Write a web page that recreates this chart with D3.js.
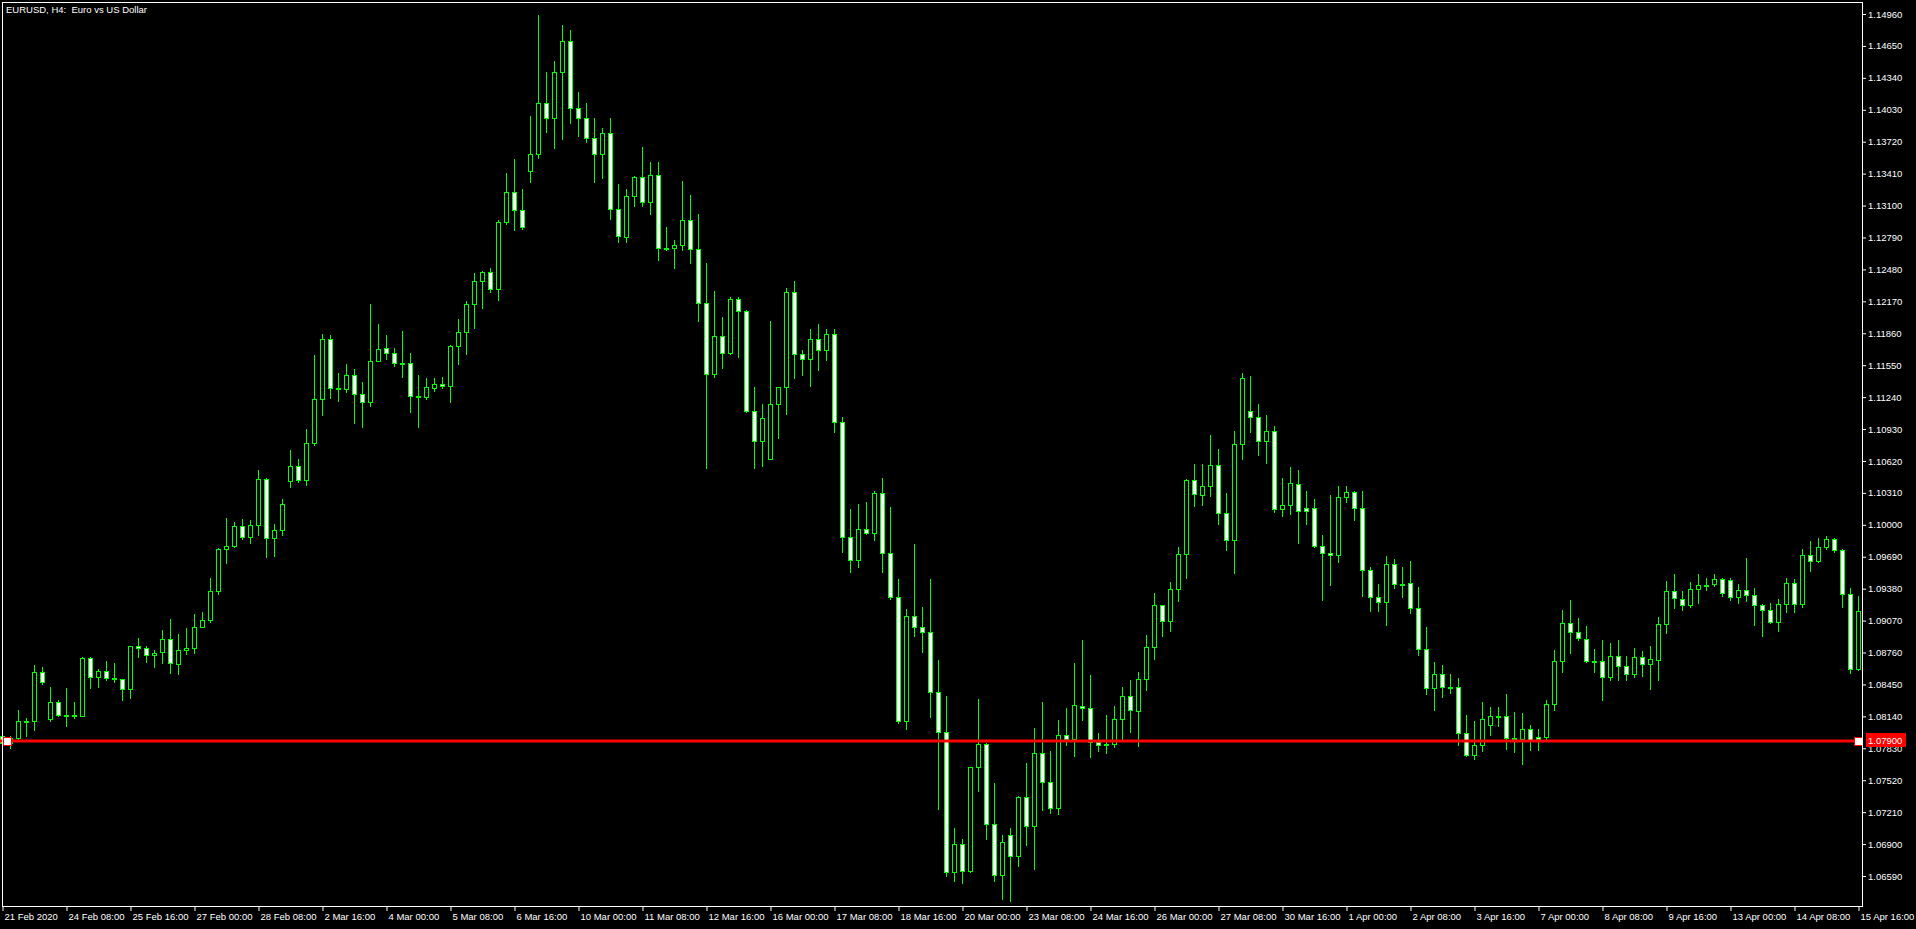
<!DOCTYPE html>
<html>
<head>
<meta charset="utf-8">
<script src="https://cdn.jsdelivr.net/npm/d3@7"></script>
<style>
  html, body { margin: 0; padding: 0; background: #000; overflow: hidden; }
  svg { display: block; }
  text { font-family: "Liberation Sans", Arial, sans-serif; font-size: 9.5px; fill: #fff; }
</style>
</head>
<body>
<div id="chart"></div>
<script>
// EURUSD H4, 21 Feb 2020 00:00 .. 15 Apr 2020 16:00 (233 bars)
const opens = [
  1.0795,1.07881,1.07926,1.08090,1.08091,1.08570,1.08114,1.08279,1.08150,1.08140,
  1.08140,1.08706,1.08518,1.08580,1.08509,1.08502,1.08405,1.08823,1.08803,1.08735,
  1.08764,1.08891,1.08648,1.08784,1.08803,1.09004,1.09075,1.09357,1.09765,1.09794,
  1.09988,1.09881,1.09998,1.10444,1.09871,1.09950,1.10422,1.10574,1.10431,1.10791,
  1.11218,1.11804,1.11325,1.11315,1.11454,1.11270,1.11189,1.11587,1.11716,1.11668,
  1.11568,1.11571,1.11247,1.11237,1.11325,1.11367,1.11344,1.11733,1.11869,1.12140,
  1.12364,1.12454,1.12286,1.12937,1.13231,1.13057,1.13432,1.13600,1.14100,1.13950,
  1.14400,1.14700,1.14050,1.13950,1.13756,1.13600,1.13804,1.13066,1.12794,1.13192,
  1.13377,1.13134,1.13396,1.12687,1.12687,1.12713,1.12959,1.12678,1.12153,1.11464,
  1.11833,1.11668,1.12192,1.12076,1.11105,1.10813,1.10639,1.11173,1.11338,1.12260,
  1.11658,1.11610,1.11800,1.11700,1.11850,1.11000,1.09881,1.09658,1.09959,1.09920,
  1.10308,1.09726,1.09298,1.08091,1.09114,1.09007,1.08958,1.08376,1.07987,1.06628,
  1.06900,1.06638,1.07648,1.07871,1.07094,1.06599,1.06987,1.06783,1.07356,1.07075,
  1.07783,1.07502,1.07249,1.07958,1.07919,1.08240,1.08217,1.07890,1.07858,1.07871,
  1.08114,1.08337,1.08191,1.08502,1.08813,1.09221,1.09062,1.09376,1.09716,1.10435,
  1.10289,1.10376,1.10580,1.10114,1.09852,1.10784,1.11101,1.11046,1.10813,1.10910,
  1.10153,1.10192,1.10396,1.10163,1.10163,1.09790,1.09726,1.09706,1.10270,1.10318,
  1.10159,1.09561,1.09298,1.09250,1.09619,1.09425,1.09431,1.09192,1.08793,1.08415,
  1.08551,1.08424,1.08430,1.07978,1.07761,1.07861,1.08055,1.08143,1.08143,1.07929,
  1.07919,1.08017,1.07939,1.07936,1.08259,1.08677,1.09046,1.08958,1.08891,1.08674,
  1.08677,1.08522,1.08725,1.08628,1.08551,1.08716,1.08648,1.08687,1.09036,1.09357,
  1.09279,1.09221,1.09376,1.09415,1.09421,1.09473,1.09463,1.09295,1.09366,1.09318,
  1.09221,1.09172,1.09052,1.09230,1.09434,1.09230,1.09706,1.09648,1.09781,1.09862,
  1.09755,1.09328,1.08599
];
const highs = [
  1.0800,1.07952,1.08204,1.08127,1.08641,1.08622,1.08428,1.08301,1.08418,1.08282,
  1.08716,1.08719,1.08602,1.08680,1.08661,1.08502,1.08823,1.08903,1.08826,1.08787,
  1.08981,1.09088,1.08942,1.09001,1.09137,1.09156,1.09486,1.09774,1.10069,1.10030,
  1.10059,1.10049,1.10535,1.10457,1.10010,1.10250,1.10729,1.10639,1.10933,1.11652,
  1.11856,1.11846,1.11477,1.11564,1.11516,1.11390,1.12147,1.11953,1.11846,1.11720,
  1.11885,1.11671,1.11457,1.11428,1.11428,1.11438,1.11746,1.12001,1.12176,1.12445,
  1.12467,1.12497,1.12963,1.13419,1.13555,1.13264,1.13973,1.14955,1.14400,1.14500,
  1.14850,1.14800,1.14200,1.14100,1.13950,1.13850,1.13950,1.13312,1.13260,1.13390,
  1.13672,1.13526,1.13526,1.12895,1.12768,1.13341,1.13205,1.13021,1.12545,1.12273,
  1.12021,1.12215,1.12215,1.12089,1.11341,1.11176,1.11982,1.11338,1.12302,1.12370,
  1.11700,1.11900,1.11950,1.11900,1.11900,1.11050,1.10156,1.10205,1.10224,1.10331,
  1.10457,1.10176,1.09476,1.09185,1.09816,1.09205,1.09476,1.08690,1.08340,1.07058,
  1.06952,1.07648,1.08311,1.07884,1.07495,1.06987,1.07058,1.07369,1.07690,1.08029,
  1.08282,1.07806,1.08107,1.08224,1.08657,1.08884,1.08541,1.07978,1.08152,1.08243,
  1.08428,1.08496,1.08570,1.08929,1.09340,1.09225,1.09447,1.09787,1.10448,1.10593,
  1.10593,1.10875,1.10739,1.10308,1.10914,1.11477,1.11448,1.11176,1.11069,1.10962,
  1.10457,1.10564,1.10535,1.10331,1.10253,1.09904,1.10286,1.10380,1.10380,1.10331,
  1.10331,1.09590,1.09425,1.09697,1.09671,1.09590,1.09651,1.09399,1.09007,1.08670,
  1.08638,1.08554,1.08512,1.08156,1.08097,1.08282,1.08233,1.08233,1.08360,1.08185,
  1.08175,1.08059,1.08020,1.08301,1.08787,1.09175,1.09272,1.09098,1.09020,1.08797,
  1.08884,1.08852,1.08884,1.08729,1.08806,1.08777,1.08826,1.09104,1.09457,1.09525,
  1.09360,1.09447,1.09525,1.09486,1.09525,1.09486,1.09486,1.09428,1.09680,1.09389,
  1.09234,1.09243,1.09282,1.09486,1.09473,1.09768,1.09845,1.09875,1.09894,1.09875,
  1.09768,1.09389,1.09311
];
const lows = [
  1.0785,1.07832,1.07913,1.07945,1.08004,1.08450,1.08091,1.08140,1.08042,1.08120,
  1.08140,1.08411,1.08428,1.08496,1.08470,1.08295,1.08314,1.08712,1.08670,1.08615,
  1.08654,1.08557,1.08547,1.08742,1.08758,1.09004,1.09052,1.09324,1.09625,1.09781,
  1.09862,1.09820,1.09904,1.09684,1.09700,1.09900,1.10367,1.10412,1.10383,1.10771,
  1.11069,1.11234,1.11199,1.11286,1.10991,1.10953,1.11150,1.11587,1.11613,1.11545,
  1.11432,1.11092,1.10953,1.11224,1.11296,1.11331,1.11195,1.11564,1.11661,1.11914,
  1.12108,1.12257,1.12186,1.12924,1.12866,1.12872,1.13332,1.13558,1.13811,1.13655,
  1.13749,1.13900,1.13772,1.13714,1.13325,1.13364,1.12966,1.12743,1.12743,1.13092,
  1.13092,1.13014,1.12568,1.12665,1.12490,1.12665,1.12539,1.11975,1.10548,1.11432,
  1.11519,1.11655,1.11626,1.11092,1.10548,1.10567,1.10639,1.10839,1.11072,1.11422,
  1.11450,1.11350,1.11500,1.11600,1.10900,1.09732,1.09544,1.09586,1.09907,1.09849,
  1.09544,1.09276,1.08072,1.08013,1.08916,1.08768,1.08130,1.07243,1.06592,1.06537,
  1.06518,1.06625,1.07411,1.06952,1.06537,1.06362,1.06343,1.06683,1.06887,1.06654,
  1.07227,1.07198,1.07188,1.07858,1.07751,1.08107,1.07750,1.07800,1.07780,1.07838,
  1.07913,1.07984,1.07848,1.08398,1.08693,1.08916,1.08965,1.09256,1.09480,1.10179,
  1.10189,1.10276,1.10004,1.09752,1.09528,1.10635,1.10897,1.10681,1.10596,1.10121,
  1.10088,1.10108,1.09820,1.10004,1.09781,1.09266,1.09418,1.09642,1.10218,1.10049,
  1.09305,1.09159,1.09159,1.09023,1.09383,1.09295,1.09140,1.08738,1.08360,1.08198,
  1.08324,1.08363,1.07864,1.07751,1.07722,1.07806,1.07955,1.08049,1.07826,1.07790,
  1.07673,1.07816,1.07816,1.07913,1.08198,1.08567,1.08751,1.08878,1.08664,1.08573,
  1.08295,1.08496,1.08496,1.08496,1.08518,1.08528,1.08402,1.08489,1.08946,1.09188,
  1.09169,1.09198,1.09237,1.09363,1.09408,1.09311,1.09272,1.09243,1.09263,1.09030,
  1.08916,1.09043,1.08965,1.09156,1.09149,1.09198,1.09548,1.09635,1.09761,1.09732,
  1.09198,1.08557,1.08586
];
const closes = [
  1.0788,1.07929,1.08094,1.08096,1.08570,1.08470,1.08279,1.08149,1.08152,1.08152,
  1.08706,1.08518,1.08580,1.08509,1.08511,1.08405,1.08823,1.08803,1.08735,1.08755,
  1.08891,1.08657,1.08784,1.08803,1.09007,1.09075,1.09357,1.09765,1.09794,1.09988,
  1.09881,1.09998,1.10444,1.09871,1.09950,1.10200,1.10574,1.10431,1.10794,1.11224,
  1.11804,1.11325,1.11330,1.11454,1.11266,1.11189,1.11590,1.11707,1.11665,1.11568,
  1.11572,1.11247,1.11250,1.11338,1.11367,1.11344,1.11736,1.11872,1.12147,1.12367,
  1.12454,1.12286,1.12940,1.13231,1.13053,1.12888,1.13600,1.14100,1.13950,1.14400,
  1.14700,1.14050,1.13950,1.13756,1.13600,1.13804,1.13066,1.12804,1.13192,1.13377,
  1.13134,1.13396,1.12687,1.12690,1.12717,1.12959,1.12678,1.12153,1.11464,1.11833,
  1.11668,1.12192,1.12072,1.11101,1.10813,1.11037,1.11173,1.11338,1.12260,1.11658,
  1.11610,1.11800,1.11700,1.11850,1.11000,1.09881,1.09658,1.09959,1.09920,1.10308,
  1.09726,1.09298,1.08091,1.09114,1.09007,1.08958,1.08376,1.07987,1.06628,1.06900,
  1.06638,1.07648,1.07871,1.07094,1.06599,1.06919,1.06783,1.07356,1.07075,1.07783,
  1.07502,1.07249,1.07958,1.07919,1.08250,1.08217,1.07890,1.07858,1.07870,1.08114,
  1.08337,1.08201,1.08502,1.08813,1.09221,1.09062,1.09376,1.09716,1.10435,1.10299,
  1.10376,1.10580,1.10114,1.09852,1.10784,1.11425,1.11046,1.10813,1.10910,1.10153,
  1.10192,1.10405,1.10134,1.10134,1.09790,1.09726,1.09706,1.10270,1.10318,1.10159,
  1.09561,1.09298,1.09250,1.09619,1.09425,1.09428,1.09192,1.08793,1.08415,1.08551,
  1.08424,1.08430,1.07978,1.07761,1.07861,1.08114,1.08143,1.08140,1.07929,1.07926,
  1.08017,1.07906,1.07919,1.08259,1.08677,1.09046,1.08958,1.08900,1.08674,1.08677,
  1.08522,1.08725,1.08632,1.08551,1.08716,1.08648,1.08696,1.09036,1.09357,1.09285,
  1.09221,1.09376,1.09415,1.09418,1.09473,1.09337,1.09295,1.09366,1.09318,1.09221,
  1.09172,1.09052,1.09230,1.09434,1.09230,1.09706,1.09648,1.09781,1.09862,1.09755,
  1.09328,1.08599,1.09166
];

// time labels every 8 bars
const timeLabels = [
  "21 Feb 2020","24 Feb 08:00","25 Feb 16:00","27 Feb 00:00","28 Feb 08:00",
  "2 Mar 16:00","4 Mar 00:00","5 Mar 08:00","6 Mar 16:00","10 Mar 00:00",
  "11 Mar 08:00","12 Mar 16:00","16 Mar 00:00","17 Mar 08:00","18 Mar 16:00",
  "20 Mar 00:00","23 Mar 08:00","24 Mar 16:00","26 Mar 00:00","27 Mar 08:00",
  "30 Mar 16:00","1 Apr 00:00","2 Apr 08:00","3 Apr 16:00","7 Apr 00:00",
  "8 Apr 08:00","9 Apr 16:00","13 Apr 00:00","14 Apr 08:00","15 Apr 16:00"
];
const priceTicks = [
  1.14960,1.14650,1.14340,1.14030,1.13720,1.13410,1.13100,1.12790,1.12480,1.12170,
  1.11860,1.11550,1.11240,1.10930,1.10620,1.10310,1.10000,1.09690,1.09380,1.09070,
  1.08760,1.08450,1.08140,1.07830,1.07520,1.07210,1.06900,1.06590
];
const hLine = 1.07900;

const W = 1916, H = 929;
const plotL = 2, plotT = 2, plotR = 1862, plotB = 906;
const n = opens.length;

const svg = d3.select("#chart").append("svg")
    .attr("width", W)
    .attr("height", H);

svg.append("rect").attr("width", W).attr("height", H).attr("fill", "#000");

const x = d3.scaleLinear().domain([0, n - 1]).range([2.5, 1858.5]);
const y = d3.scaleLinear().domain([1.0659, 1.1496]).range([876, 14]);

const py = v => Math.round(y(v));

// candles
const bars = svg.append("g");
d3.range(n).forEach(i => {
    const cx = Math.floor(x(i)) + 0.5;
    const o = opens[i], c = closes[i];
    const bull = c >= o;
    bars.append("line")
        .attr("x1", cx).attr("x2", cx)
        .attr("y1", py(highs[i])).attr("y2", py(lows[i]) + 1)
        .attr("stroke", "#00ff00").attr("stroke-width", 1);
    const yt = py(Math.max(o, c)), yb = py(Math.min(o, c));
    bars.append("rect")
        .attr("x", cx - 2).attr("y", yt + 0.5)
        .attr("width", 4).attr("height", Math.max(yb - yt, 1))
        .attr("fill", bull ? "#000" : "#fff")
        .attr("stroke", "#00ff00").attr("stroke-width", 1);
});

// horizontal line
const ly = y(hLine);
svg.append("line")
    .attr("x1", 0).attr("x2", plotR)
    .attr("y1", ly).attr("y2", ly)
    .attr("stroke", "#ff0000").attr("stroke-width", 3);
[3.5, 1854.5].forEach(px => {
    svg.append("rect")
        .attr("x", px).attr("y", Math.round(ly) - 3.5).attr("width", 8).attr("height", 8)
        .attr("fill", "#fff").attr("stroke", "#ff0000").attr("stroke-width", 1);
});

// frame
svg.append("rect")
    .attr("x", plotL + 0.5).attr("y", plotT + 0.5)
    .attr("width", plotR - plotL).attr("height", plotB - plotT)
    .attr("fill", "none").attr("stroke", "#fff").attr("stroke-width", 1);

// price axis
const yAxis = svg.append("g")
    .attr("transform", `translate(${plotR},0)`)
    .call(d3.axisRight(y).tickValues(priceTicks).tickFormat(d3.format(".5f")).tickSize(4).tickPadding(2));
yAxis.select(".domain").remove();
yAxis.selectAll("line").attr("stroke", "#fff");
yAxis.selectAll("text").attr("fill", "#fff").style("font-size", "9.5px")
    .style("font-family", "'Liberation Sans', Arial, sans-serif");

// time axis
const xAxis = svg.append("g")
    .attr("transform", `translate(0,${plotB})`)
    .call(d3.axisBottom(x)
        .tickValues(d3.range(0, n, 8))
        .tickFormat((d, k) => timeLabels[k])
        .tickSize(5).tickPadding(2));
xAxis.select(".domain").remove();
xAxis.selectAll("line").attr("stroke", "#fff");
xAxis.selectAll("text")
    .attr("fill", "#fff")
    .attr("text-anchor", "start")
    .attr("x", 1.5)
    .style("font-size", "9.5px")
    .style("font-family", "'Liberation Sans', Arial, sans-serif");

// price label of the line
svg.append("rect")
    .attr("x", 1866).attr("y", 733).attr("width", 40).attr("height", 14)
    .attr("fill", "#ff0000");
svg.append("text")
    .attr("x", 1868).attr("y", 744)
    .attr("fill", "#000")
    .text(d3.format(".5f")(hLine));

// title
svg.append("text")
    .attr("x", 6).attr("y", 13)
    .style("white-space", "pre")
    .text("EURUSD, H4:  Euro vs US Dollar");
</script>
</body>
</html>
